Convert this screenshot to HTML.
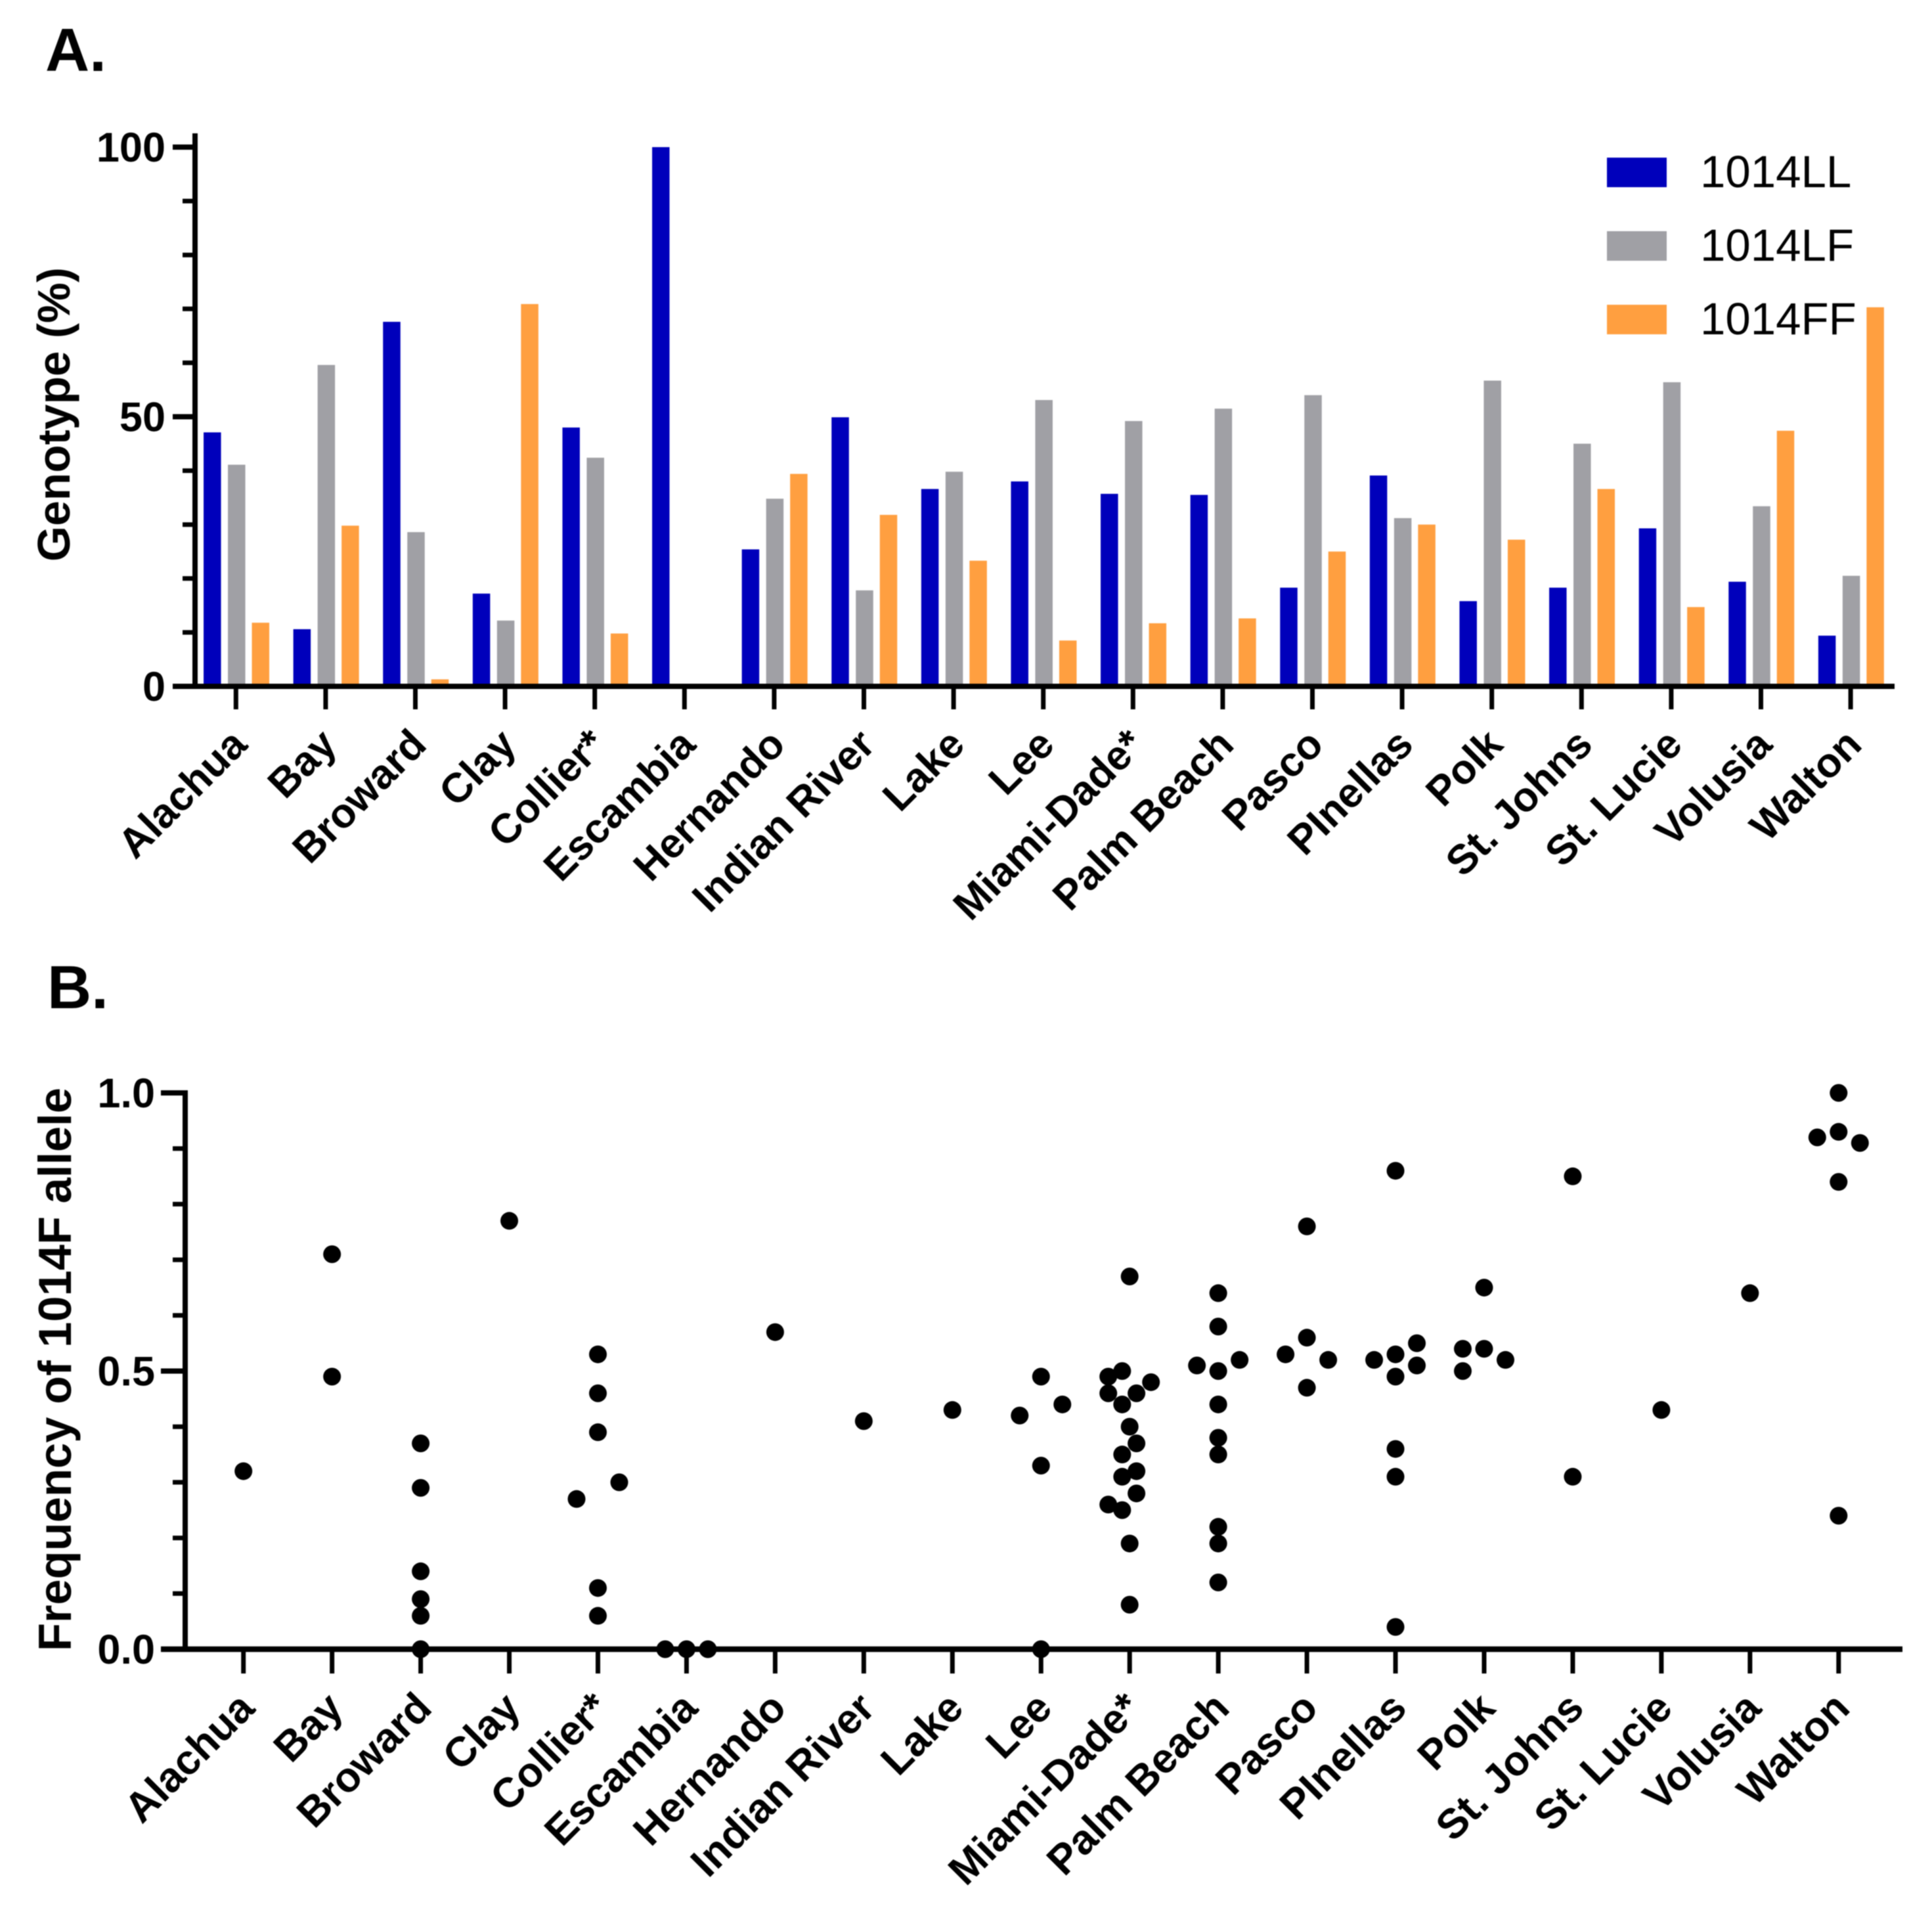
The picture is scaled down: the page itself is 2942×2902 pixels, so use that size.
<!DOCTYPE html>
<html lang="en">
<head>
<meta charset="utf-8">
<title>1014 genotype and allele frequency by Florida county</title>
<style>
html,body{margin:0;padding:0;background:#fff;}
body{width:2942px;height:2902px;overflow:hidden;}
svg{display:block;filter:blur(0.7px);}
text{font-family:"Liberation Sans",Arial,sans-serif;fill:#000;}
.bold{font-weight:700;}
</style>
</head>
<body>
<svg id="figure" xmlns="http://www.w3.org/2000/svg" width="2942" height="2902" viewBox="0 0 2942 2902">
  <rect x="0" y="0" width="2942" height="2902" fill="#fff"/>
  <text class="bold" x="69" y="108" font-size="93">A.</text>
  <text class="bold" x="72" y="1535" font-size="93">B.</text>
  <text class="bold" font-size="69.5" text-anchor="middle" transform="translate(106 631) rotate(-90)">Genotype (%)</text>
  <text class="bold" font-size="70.5" text-anchor="middle" transform="translate(108 2085) rotate(-90)">Frequency of 1014F allele</text>
  <g id="panel-a"></g>
  <g id="panel-b"></g>
  <g id="legend"></g>
</svg>
<script>
const counties = ["Alachua","Bay","Broward","Clay","Collier*","Escambia","Hernando","Indian River","Lake","Lee","Miami-Dade*","Palm Beach","Pasco","PInellas","Polk","St. Johns","St. Lucie","Volusia","Walton"];
const seriesNames = ["1014LL","1014LF","1014FF"];
const valuesLL = [47.1,10.6,67.6,17.2,48,100,25.4,49.9,36.6,38,35.7,35.5,18.3,39.1,15.8,18.3,29.3,19.4,9.4];
const valuesLF = [41.1,59.6,28.6,12.2,42.4,0,34.8,17.8,39.8,53.1,49.2,51.5,54,31.2,56.7,45,56.4,33.4,20.5];
const valuesFF = [11.8,29.8,1.3,70.9,9.8,0,39.4,31.8,23.3,8.5,11.7,12.6,25,30,27.2,36.6,14.7,47.4,70.3];
const genotypeMajorTicks = [0,50,100];
const genotypeMinorTicks = [10,20,30,40,60,70,80,90];
const alleleMajorTicks = ["0.0","0.5","1.0"];
const alleleMinorTicks = [0.1,0.2,0.3,0.4,0.6,0.7,0.8,0.9];
const alleleFrequency = [
  [0.32],
  [0.71,0.49],
  [0.37,0.29,0.14,0.09,0.06,0],
  [0.77],
  [0.53,0.46,0.39,0.30,0.27,0.11,0.06],
  [0,0,0],
  [0.57],
  [0.41],
  [0.43],
  [0.49,0.44,0.42,0.33,0],
  [0.67,0.50,0.49,0.48,0.46,0.46,0.44,0.40,0.37,0.35,0.32,0.31,0.28,0.26,0.25,0.19,0.08],
  [0.64,0.58,0.52,0.51,0.50,0.44,0.38,0.35,0.22,0.19,0.12],
  [0.76,0.56,0.53,0.52,0.47],
  [0.86,0.55,0.53,0.52,0.51,0.49,0.36,0.31,0.04],
  [0.65,0.54,0.54,0.52,0.50],
  [0.85,0.31],
  [0.43],
  [0.64],
  [1.0,0.93,0.92,0.91,0.84,0.24]
];
const swarmSlots = [
  [0],
  [0,0],
  [0,0,0,0,0,0],
  [0],
  [0,0,0,1,-1,0,0],
  [-1,0,1],
  [0],
  [0],
  [0],
  [0,1,-1,0,0],
  [0,-0.35,-1,1,-1,0.32,-0.35,0,0.32,-0.35,0.32,-0.35,0.32,-1,-0.35,0,0],
  [0,0,1,-1,0,0,0,0,0,0,0],
  [0,0,-1,1,0],
  [0,1,0,-1,1,0,0,0,0],
  [0,-1,0,1,-1],
  [0,0],
  [0],
  [0],
  [0,0,-1,1,0,0]
];

const SVG_NS = "http://www.w3.org/2000/svg";
const panelA = document.getElementById("panel-a");
const panelB = document.getElementById("panel-b");
const legend = document.getElementById("legend");
const seriesColors = ["#0000BB","#A0A0A5","#FF9F40"];
const barOffsets = [-36,1,37.5];

const yA = v => 1045 - (v / 100) * 821;
const xA = i => 359.3 + i * 136.6;
const yB = v => 2511 - v * 847;
const xB = i => 370.7 + i * 134.95;
const SWARM_PX = 32.5;

function make(tag, parent, props, content) {
  const el = document.createElementNS(SVG_NS, tag);
  for (const k in props) el.setAttribute(k, props[k]);
  if (content !== undefined) el.textContent = content;
  parent.appendChild(el);
  return el;
}
function slug(s) {
  return s.toLowerCase().replace(/[^a-z0-9]+/g, "-").replace(/-+$/, "");
}

/* ---------- Panel A bars ---------- */
const seriesValues = [valuesLL, valuesLF, valuesFF];
seriesValues.forEach((vals, s) => {
  vals.forEach((v, i) => {
    const el = make("rect", panelA, {
      x: xA(i) + barOffsets[s] - 13.25,
      y: yA(v),
      width: 26.5,
      height: yA(0) - yA(v),
      fill: seriesColors[s]
    });
    
    
  });
});

/* ---------- Panel A axes ---------- */
const axisAY = make("line", panelA, {x1: 297, x2: 297, y1: 203, y2: 1049, stroke: "#000", "stroke-width": 8});


const axisAX = make("line", panelA, {x1: 263, x2: 2885, y1: yA(0), y2: yA(0), stroke: "#000", "stroke-width": 8});



genotypeMajorTicks.forEach(t => {
  const tick = make("line", panelA, {x1: 263, x2: 297, y1: yA(t), y2: yA(t), stroke: "#000", "stroke-width": 8});
  
  
  const label = make("text", panelA, {x: 252, y: yA(t) + 22, "text-anchor": "end", "font-size": 63, "font-weight": 700}, String(t));
  
  
});
genotypeMinorTicks.forEach(t => {
  const tick = make("line", panelA, {x1: 278, x2: 297, y1: yA(t), y2: yA(t), stroke: "#000", "stroke-width": 7});
  
  
});
counties.forEach((c, i) => {
  const tick = make("line", panelA, {x1: xA(i), x2: xA(i), y1: yA(0), y2: 1080, stroke: "#000", "stroke-width": 7});
  
  
  const label = make("text", panelA, {"text-anchor": "end", "font-size": 63, "font-weight": 700, transform: "translate(" + (xA(i) + 20) + " 1137) rotate(-45)"}, c);
  
  
});

/* ---------- Legend ---------- */
seriesNames.forEach((name, s) => {
  const entry = make("g", legend, {});
  
  
  const swatch = make("rect", entry, {x: 2447, y: 240 + s * 112, width: 91, height: 45, fill: seriesColors[s]});
  
  
  const label = make("text", entry, {x: 2589, y: 285 + s * 112, "font-size": 69}, name);
  
  
});

/* ---------- Panel B axes ---------- */
const axisBY = make("line", panelB, {x1: 282, x2: 282, y1: yB(1) - 4, y2: yB(0) + 4, stroke: "#000", "stroke-width": 8});


const axisBX = make("line", panelB, {x1: 245, x2: 2897, y1: yB(0), y2: yB(0), stroke: "#000", "stroke-width": 8.5});



alleleMajorTicks.forEach(t => {
  const v = parseFloat(t);
  const tick = make("line", panelB, {x1: 245, x2: 282, y1: yB(v), y2: yB(v), stroke: "#000", "stroke-width": 8});
  
  
  const label = make("text", panelB, {x: 236, y: yB(v) + 22, "text-anchor": "end", "font-size": 63, "font-weight": 700}, t);
  
  
});
alleleMinorTicks.forEach(t => {
  const tick = make("line", panelB, {x1: 263, x2: 282, y1: yB(t), y2: yB(t), stroke: "#000", "stroke-width": 7});
  
  
});
counties.forEach((c, i) => {
  const tick = make("line", panelB, {x1: xB(i), x2: xB(i), y1: yB(0), y2: 2548, stroke: "#000", "stroke-width": 7});
  
  
  const label = make("text", panelB, {"text-anchor": "end", "font-size": 63.5, "font-weight": 700, transform: "translate(" + (xB(i) + 20) + " 2604) rotate(-45)"}, c);
  
  
});

/* ---------- Panel B dots ---------- */
alleleFrequency.forEach((vals, i) => {
  vals.forEach((v, j) => {
    const dot = make("circle", panelB, {cx: xB(i) + swarmSlots[i][j] * SWARM_PX, cy: yB(v), r: 13.5, fill: "#000"});
    
    
  });
});
</script>
</body>
</html>
